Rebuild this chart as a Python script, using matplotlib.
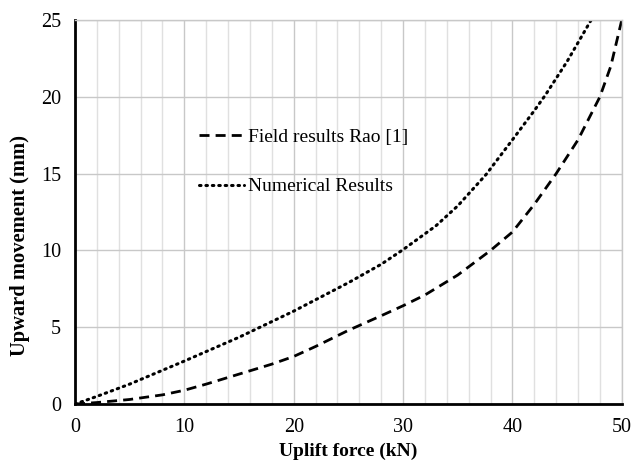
import matplotlib.pyplot as plt
from matplotlib.ticker import MultipleLocator

# field results (dashed)
field_x = [0, 2, 5, 8, 10, 12, 15, 18, 20, 22, 24, 25, 28, 30, 32, 35, 38, 40, 42, 44, 46, 48, 49, 50]
field_y = [0, 0.1, 0.3, 0.6, 0.9, 1.3, 1.95, 2.6, 3.1, 3.75, 4.45, 4.8, 5.75, 6.4, 7.1, 8.4, 10.0, 11.2, 13.0, 15.0, 17.2, 20.0, 22.0, 25.0]

# numerical results (dotted)
num_x = [0, 2, 5, 10, 15, 20, 25, 28, 30, 33, 35, 37.6, 40, 42, 43, 45, 47.2]
num_y = [0, 0.5, 1.3, 2.8, 4.35, 6.05, 7.9, 9.1, 10.05, 11.6, 12.9, 14.95, 17.2, 19.1, 20.1, 22.3, 25.0]

plt.rcParams["font.family"] = ["Liberation Serif", "DejaVu Serif"]

fig = plt.figure(figsize=(6.41, 4.65), dpi=100)
ax = fig.add_axes([0.117, 0.131, 0.853, 0.826])

ax.plot(field_x, field_y, color="black", linewidth=2, dashes=(3.6, 2.2), label="Field results Rao [1]")
ax.plot(num_x, num_y, color="black", linewidth=2.2, linestyle=(0, (0.5, 1.6)),
        dash_capstyle="round", label="Numerical Results")

ax.set_xlim(0, 50)
ax.set_ylim(0, 25)
ax.xaxis.set_major_locator(MultipleLocator(10))
ax.xaxis.set_minor_locator(MultipleLocator(2))
ax.yaxis.set_major_locator(MultipleLocator(5))

ax.grid(which="major", color="#c8c8c8", linewidth=1)
ax.grid(which="minor", axis="x", color="#e0e0e0", linewidth=1)
ax.set_axisbelow(True)

for side in ["top", "right"]:
    ax.spines[side].set_color("#c8c8c8")
    ax.spines[side].set_linewidth(1)
for side in ["left", "bottom"]:
    ax.spines[side].set_color("black")
    ax.spines[side].set_linewidth(2)

ax.tick_params(which="both", length=0, labelsize=14.5, pad=10)

ax.set_xlabel("Uplift force (kN)", fontsize=14, fontweight="bold", labelpad=4)
ax.set_ylabel("Upward movement (mm)", fontsize=14.8, fontweight="bold")
ax.yaxis.set_label_coords(-0.082, 0.414)

ax.legend(loc="upper left", bbox_to_anchor=(0.227, 0.717), frameon=False, fontsize=14,
          handlelength=2.3, handletextpad=0.2, labelspacing=1.62,
          borderaxespad=0, borderpad=0)

fig.savefig("out.png", dpi=100)
